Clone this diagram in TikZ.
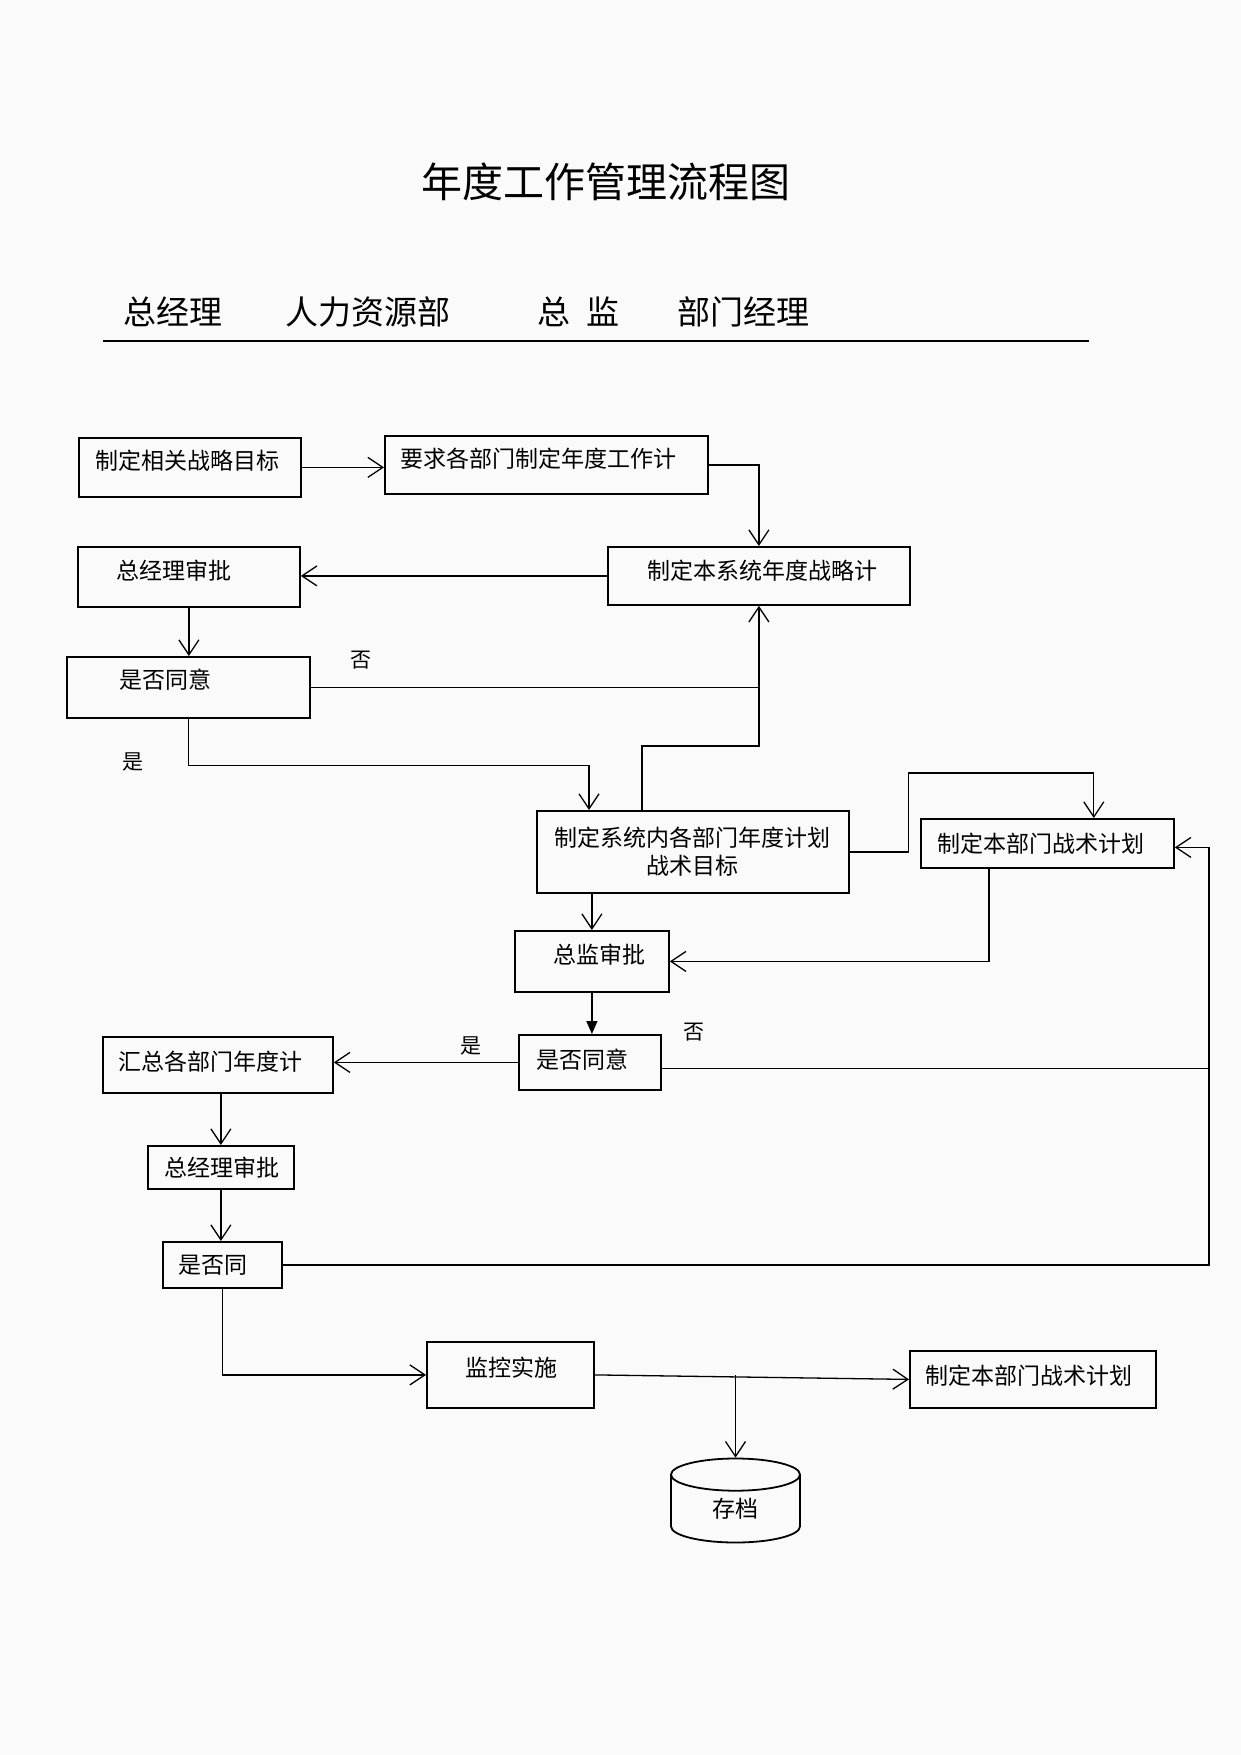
\documentclass[tikz,border=0pt]{standalone}
\usepackage{fontspec}
\setmainfont{Noto Sans CJK SC}
\usetikzlibrary{arrows.meta,shapes.geometric,positioning,calc}

\newcommand{\boxfont}{\fontsize{23}{28}\selectfont}
\newcommand{\tagfont}{\fontsize{21}{25}\selectfont}
\newcommand{\headfont}{\fontsize{33}{40}\selectfont}
\newcommand{\titlefont}{\fontsize{41}{48}\selectfont}
\definecolor{paper}{RGB}{250,250,250}

\tikzset{
  box/.style  = {draw, rectangle, line width=1.8pt, inner xsep=0pt, inner ysep=0pt,
                 align=left, anchor=north west, font=\boxfont},
  pad/.style  = {execute at begin node=\hspace*{#1pt}},
  lift/.style = {text height=20pt, text depth=#1},
  drum/.style = {draw, cylinder, shape border rotate=90, aspect=0.7, line width=1.8pt,
                 minimum width=129pt, minimum height=84pt, inner sep=0pt, font=\boxfont},
  head/.style = {anchor=west, inner sep=0pt, font=\headfont},
  tag/.style  = {inner sep=0pt, font=\tagfont},
  link/.style = {line width=1.3pt},
  flow/.style = {link, -{Straight Barb[length=15pt,width=20pt,line width=1.3pt]}},
  solid flow/.style = {link, -{Triangle[length=13pt,width=11pt]}}
}

\begin{document}
\begin{tikzpicture}[x=1pt, y=-1pt]
\fill[paper] (0,0) rectangle (1241,1755);
\useasboundingbox (0,0) rectangle (1241,1755);

% title and lanes
\node[font=\titlefont, inner sep=0pt] (title) at (606,182) {年度工作管理流程图};
\node[head] (hGM)   at (123,312) {总经理};
\node[head] (hHR)   at (285,312) {人力资源部};
\node[head] (hDir)  at (537,312) {总\enspace 监};
\node[head] (hDept) at (677,312) {部门经理};
\draw[line width=1.5pt] (103,341) -- (1089,341);

% process boxes
\node[box, text width=222pt, minimum height=59pt, pad=17, lift=15pt] (goal)    at (78,437)  {制定相关战略目标};
\node[box, text width=323pt, minimum height=58pt, pad=16, lift=15pt] (req)     at (384,435) {要求各部门制定年度工作计};
\node[box, text width=302pt, minimum height=58pt, pad=40, lift=12pt] (sysplan) at (607,546) {制定本系统年度战略计};
\node[box, text width=222pt, minimum height=60pt, pad=39, lift=15pt] (gmok1)   at (77,546)  {总经理审批};
\node[box, text width=243pt, minimum height=61pt, pad=53, lift=17pt] (agree1)  at (66,656)  {是否同意};
\node[box, text width=312pt, minimum height=82pt, align=center] (deptplan) at (536,810) {制定系统内各部门年度计划\\战术目标};
\node[box, text width=253pt, minimum height=49pt, pad=17] (tactic)  at (920,818) {制定本部门战术计划};
\node[box, text width=154pt, minimum height=61pt, pad=39, lift=15pt] (dirok)   at (514,930) {总监审批};
\node[box, text width=142pt, minimum height=55pt, pad=18, lift=7pt]  (agree2)  at (518,1034) {是否同意};
\node[box, text width=230pt, minimum height=56pt, pad=16, lift=9pt]  (collect) at (102,1036) {汇总各部门年度计};
\node[box, text width=146pt, minimum height=43pt, pad=17] (gmok2)   at (147,1145) {总经理审批};
\node[box, text width=119pt, minimum height=46pt, pad=16] (agree3)  at (162,1241) {是否同};
\node[box, text width=167pt, minimum height=66pt, pad=39, lift=17pt] (monitor) at (426,1341) {监控实施};
\node[box, text width=246pt, minimum height=57pt, pad=16, lift=9pt]  (tactic2) at (909,1350) {制定本部门战术计划};
\node[drum] (archive) at (735.5,1509) {存档};

% yes / no marks
\node[tag] (no1)  at (361,660)  {否};
\node[tag] (yes1) at (133,762)  {是};
\node[tag] (yes2) at (471,1046) {是};
\node[tag] (no2)  at (694,1032) {否};

\coordinate (ret) at (1209,0);

% connectors
\draw[flow] (goal.east) -- (goal.east -| req.west);
\draw[flow] (req.east) -| (sysplan.north);
\draw[flow] (sysplan.west) -- (sysplan.west -| gmok1.east);
\draw[flow] (gmok1.south) -- (gmok1.south |- agree1.north);
\draw[flow] (agree1.east) -| (sysplan.south);
\draw[flow] (agree1.south) -- ++(0,47) -| ([xshift=53pt]deptplan.north west);
\draw[link] ([xshift=106pt]deptplan.north west) -- ++(0,-64) -| (sysplan.south |- agree1.east);
\draw[flow] (dirok.north |- deptplan.south) -- (dirok.north);
\draw[flow] (deptplan.east) -- ++(59,0) -- ++(0,-79) -| ([xshift=-81pt]tactic.north east);
\draw[flow] ([xshift=69pt]tactic.south west) |- (dirok.east);
\draw[solid flow] (dirok.south) -- (dirok.south |- agree2.north);
\draw[flow] (agree2.west) -- (agree2.west -| collect.east);
\draw[flow] ([yshift=-6pt]agree2.east) -- ([yshift=-6pt]agree2.east -| ret) |- ([yshift=-4pt]tactic.east);
\draw[link] (agree3.east) -| ([yshift=-6pt]agree2.east -| ret);
\draw[flow] (gmok2.north |- collect.south) -- (gmok2.north);
\draw[flow] (gmok2.south) -- (gmok2.south |- agree3.north);
\draw[flow] (agree3.south) |- (monitor.west);
\draw[flow] (monitor.east) -- (tactic2.west);
\draw[flow] (archive.north |- monitor.east) -- (archive.north);
\end{tikzpicture}
\end{document}
